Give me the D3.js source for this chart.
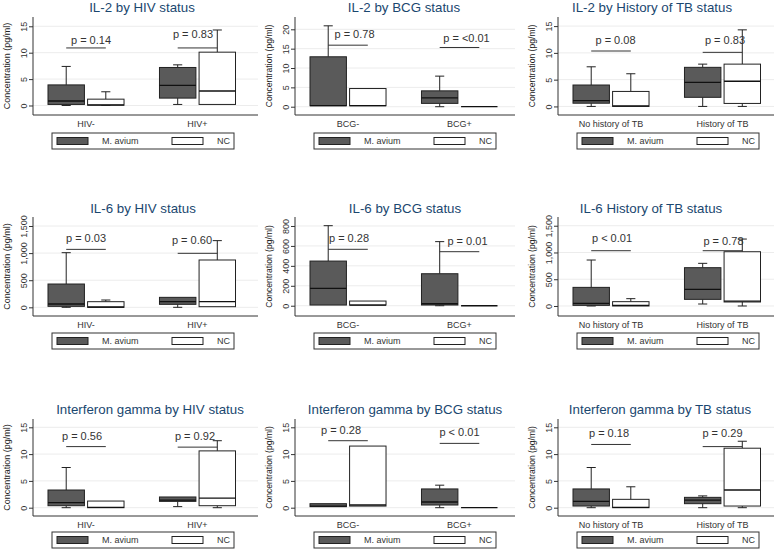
<!DOCTYPE html>
<html>
<head>
<meta charset="utf-8">
<script src="https://cdn.jsdelivr.net/npm/d3@7"></script>
<style>
  html, body { margin: 0; padding: 0; background: #fff; }
  svg { display: block; }
</style>
</head>
<body>
<svg id="chart" width="777" height="551"></svg>
<script>
// ---------------- DATA ----------------
const titles = [
  "IL-2 by HIV status", "IL-2 by BCG status", "IL-2 by History of TB status",
  "IL-6 by HIV status", "IL-6 by BCG status", "IL-6 History of TB status",
  "Interferon gamma by HIV status", "Interferon gamma by BCG status", "Interferon gamma by TB status"
];
const hivCategories = ["HIV-", "HIV+"];
const bcgCategories = ["BCG-", "BCG+"];
const tbCategories = ["No history of TB", "History of TB"];
const groups = ["M. avium", "NC"];
const yAxisTitle = "Concentration (pg/ml)";

// box statistics: [category][group] = [lower whisker, Q1, median, Q3, upper whisker]
const il2Hiv = [[[0, 0.2, 0.85, 3.9, 7.4], [0, 0.05, 0.1, 1.2, 2.6]],
                [[0.2, 1.4, 3.8, 7.2, 7.7], [0.2, 0.2, 2.75, 10.1, 14.3]]];
const il2Bcg = [[[0.26, 0.26, 0.26, 12.9, 20.9], [0.26, 0.26, 0.26, 4.7, 4.7]],
                [[0, 0.86, 2.3, 4.1, 7.9], [0, 0, 0, 0, 0]]];
const il2Tb  = [[[0, 0.6, 1.1, 4.0, 7.4], [0, 0, 0.12, 2.8, 6.1]],
                [[0, 1.7, 4.5, 7.3, 7.9], [0, 0.56, 4.7, 7.9, 14.3]]];
const il6Hiv = [[[0, 18, 61, 430, 1008], [0, 0, 6, 104, 135]],
                [[0, 55, 104, 184, 184], [12, 12, 104, 873, 1230]]];
const il6Bcg = [[[7, 7, 174, 448, 803], [7, 7, 7, 47, 47]],
                [[0, 7, 20, 321, 643], [0, 0, 0, 0, 0]]];
const il6Tb  = [[[0, 12, 50, 348, 859], [0, 0, 12, 81, 137]],
                [[37, 124, 311, 716, 797], [0, 75, 90, 1014, 1251]]];
const ifnHiv = [[[0, 0.37, 0.93, 3.3, 7.5], [0, 0, 0.06, 1.24, 1.24]],
                [[0.2, 1.18, 1.43, 2.0, 2.0], [0, 0.37, 1.8, 10.6, 12.5]]];
const ifnBcg = [[[0.19, 0.19, 0.3, 0.75, 0.75], [0.3, 0.3, 0.5, 11.5, 11.5]],
                [[0, 0.5, 1.06, 3.5, 4.2], [0, 0, 0, 0, 0]]];
const ifnTb  = [[[0, 0.31, 1.18, 3.5, 7.5], [0, 0, 0.06, 1.56, 3.9]],
                [[0, 0.75, 1.43, 1.93, 2.2], [0, 0.31, 3.3, 11.1, 12.4]]];

// y-axis ticks and ranges
const ticks15 = [0, 5, 10, 15];
const ticks20 = [0, 5, 10, 15, 20];
const ticks1500 = [0, 500, 1000, 1500];
const ticks800 = [0, 200, 400, 600, 800];
const yDomains = [[-1.8, 16.76], [-2.14, 23.18], [-1.6, 16.7],
                  [-160, 1666], [-103, 890], [-187, 1663],
                  [-1.55, 16.55], [-1.55, 16.55], [-1.55, 16.55]];

// p-value annotations
const pLabels = [["p = 0.14", "p = 0.83"], ["p = 0.78", "p = <0.01"], ["p = 0.08", "p = 0.83"],
                 ["p = 0.03", "p = 0.60"], ["p = 0.28", "p = 0.01"], ["p < 0.01", "p = 0.78"],
                 ["p = 0.56", "p = 0.92"], ["p = 0.28", "p < 0.01"], ["p = 0.18", "p = 0.29"]];
const pLineLevels = [[10.9, 10.9], [15.9, 15.3], [10.35, 10.1],
                     [1069, 996], [566, 542], [1033, 1033],
                     [11.4, 11.3], [12.5, 12.0], [11.8, 11.4]];
const pTextLevels = [[11.7, 12.7], [17.7, 16.8], [11.6, 11.6],
                     [1211, 1162], [643, 609], [1189, 1139],
                     [12.6, 12.6], [13.7, 13.4], [13.1, 13.1]];

// ---------------- LAYOUT ----------------
const panelStats = [il2Hiv, il2Bcg, il2Tb, il6Hiv, il6Bcg, il6Tb, ifnHiv, ifnBcg, ifnTb];
const panelCats = [hivCategories, bcgCategories, tbCategories];
const panelTicks = [ticks15, ticks20, ticks15, ticks1500, ticks800, ticks1500, ticks15, ticks15, ticks15];
const pTextDx = [[5, -4.5], [6.5, 7], [4.5, 2.5], [0, -5.5], [1, 8], [1, 1], [-4, -2.5], [-7, 0], [-2, 0]];
const titleX = [142, 404, 652, 143, 405, 651, 150, 405, 660];
const colAxisX = [33, 295, 558];
const colRight = [258, 515, 774];
const rowTitleY = [12, 213, 414];
const rowTop = [17, 217, 419];
const rowBottom = [115, 316, 516];
const rowCatY = [127, 328, 528];
const rowLegendY = [133, 333, 532];

const FONT = "'Liberation Sans', Arial, Helvetica, sans-serif";
const DARK = "#5a5a5a";
const INK = "#222";

const svg = d3.select("#chart");
svg.append("rect").attr("width", 777).attr("height", 551).attr("fill", "#fff");

panelStats.forEach((stats, i) => {
  const row = Math.floor(i / 3), col = i % 3;
  const ax = colAxisX[col], right = colRight[col];
  const top = rowTop[row], bottom = rowBottom[row];
  const cats = panelCats[col];
  const g = svg.append("g");

  const x = d3.scaleBand().domain(cats).range([ax, ax + 217.5])
    .paddingInner(0.318).paddingOuter(0.1345);
  const xg = d3.scaleBand().domain(groups).range([0, x.bandwidth()]).paddingInner(0.08);
  const y = d3.scaleLinear().domain(yDomains[i]).range([bottom, top]);

  // gridlines
  g.selectAll(".grid").data(panelTicks[i]).enter().append("line")
    .attr("x1", ax).attr("x2", right)
    .attr("y1", d => y(d)).attr("y2", d => y(d))
    .attr("stroke", "#ececec").attr("stroke-width", 1);

  // y axis
  const yAxis = g.append("g").attr("transform", `translate(${ax},0)`)
    .call(d3.axisLeft(y).tickValues(panelTicks[i]).tickSize(4).tickFormat(d3.format(",")));
  yAxis.select(".domain").remove();
  yAxis.selectAll(".tick line").attr("stroke", "#333");
  yAxis.selectAll(".tick text")
    .attr("x", null).attr("dy", null).attr("y", null)
    .attr("transform", "translate(-6,0) rotate(-90)")
    .attr("text-anchor", "middle")
    .attr("font-family", FONT).attr("font-size", 9).attr("fill", "#333");

  g.append("line").attr("x1", ax).attr("x2", ax).attr("y1", top).attr("y2", bottom)
    .attr("stroke", "#333").attr("stroke-width", 1);
  g.append("line").attr("x1", ax).attr("x2", right).attr("y1", bottom).attr("y2", bottom)
    .attr("stroke", "#333").attr("stroke-width", 1);

  // y title
  g.append("text").text(yAxisTitle)
    .attr("transform", `translate(${ax - 23},${(top + bottom) / 2}) rotate(-90)`)
    .attr("text-anchor", "middle")
    .attr("font-family", FONT).attr("font-size", col === 0 ? 9 : 8.6).attr("fill", "#222");

  // title
  g.append("text").text(titles[i])
    .attr("x", titleX[i]).attr("y", rowTitleY[row])
    .attr("text-anchor", "middle")
    .attr("font-family", FONT).attr("font-size", 13.3).attr("fill", "#1a476f");

  // category labels
  g.selectAll(".cat").data(cats).enter().append("text")
    .text(d => d)
    .attr("x", d => x(d) + x.bandwidth() / 2).attr("y", rowCatY[row])
    .attr("text-anchor", "middle")
    .attr("font-family", FONT).attr("font-size", 9).attr("fill", "#333");

  // boxes
  cats.forEach((c, ci) => {
    groups.forEach((gr, gi) => {
      const [lo, q1, med, q3, hi] = stats[ci][gi];
      const bx = x(c) + xg(gr), bw = xg.bandwidth(), cx = bx + bw / 2;
      const capW = bw * 0.25;
      const fill = gi === 0 ? DARK : "#fff";
      if (hi > q3) {
        g.append("line").attr("x1", cx).attr("x2", cx).attr("y1", y(q3)).attr("y2", y(hi))
          .attr("stroke", INK).attr("stroke-width", 1);
        g.append("line").attr("x1", cx - capW / 2).attr("x2", cx + capW / 2).attr("y1", y(hi)).attr("y2", y(hi))
          .attr("stroke", INK).attr("stroke-width", 1);
      }
      if (lo < q1) {
        g.append("line").attr("x1", cx).attr("x2", cx).attr("y1", y(q1)).attr("y2", y(lo))
          .attr("stroke", INK).attr("stroke-width", 1);
        g.append("line").attr("x1", cx - capW / 2).attr("x2", cx + capW / 2).attr("y1", y(lo)).attr("y2", y(lo))
          .attr("stroke", INK).attr("stroke-width", 1);
      }
      g.append("rect").attr("x", bx).attr("width", bw)
        .attr("y", y(q3)).attr("height", Math.max(0, y(q1) - y(q3)))
        .attr("fill", fill).attr("stroke", INK).attr("stroke-width", 1);
      g.append("line").attr("x1", bx).attr("x2", bx + bw).attr("y1", y(med)).attr("y2", y(med))
        .attr("stroke", "#111").attr("stroke-width", 1.3);
    });

    // p-value annotation
    const c1 = x(c) + xg(groups[0]) + xg.bandwidth() / 2;
    const c2 = x(c) + xg(groups[1]) + xg.bandwidth() / 2;
    g.append("line").attr("x1", c1).attr("x2", c2)
      .attr("y1", y(pLineLevels[i][ci])).attr("y2", y(pLineLevels[i][ci]))
      .attr("stroke", "#333").attr("stroke-width", 1);
    g.append("text").text(pLabels[i][ci])
      .attr("x", (c1 + c2) / 2 + pTextDx[i][ci]).attr("y", y(pTextLevels[i][ci]))
      .attr("text-anchor", "middle")
      .attr("font-family", FONT).attr("font-size", 11).attr("fill", "#333");
  });

  // legend
  const ly = rowLegendY[row], lh = 16;
  const leg = g.append("g");
  leg.append("rect").attr("x", ax + 19).attr("y", ly).attr("width", 182).attr("height", lh)
    .attr("fill", "#fff").attr("stroke", "#333").attr("stroke-width", 1);
  const swX = [ax + 24, ax + 139];
  groups.forEach((gr, gi) => {
    leg.append("rect").attr("x", swX[gi]).attr("y", ly + lh / 2 - 3.5).attr("width", 31).attr("height", 7)
      .attr("fill", gi === 0 ? DARK : "#fff").attr("stroke", INK).attr("stroke-width", 1);
  });
  leg.append("text").text(groups[0]).attr("x", ax + 69).attr("y", ly + lh / 2 + 3.2)
    .attr("font-family", FONT).attr("font-size", 9).attr("fill", "#333");
  leg.append("text").text(groups[1]).attr("x", ax + 197).attr("y", ly + lh / 2 + 3.2)
    .attr("text-anchor", "end")
    .attr("font-family", FONT).attr("font-size", 9).attr("fill", "#333");
});
</script>
</body>
</html>
